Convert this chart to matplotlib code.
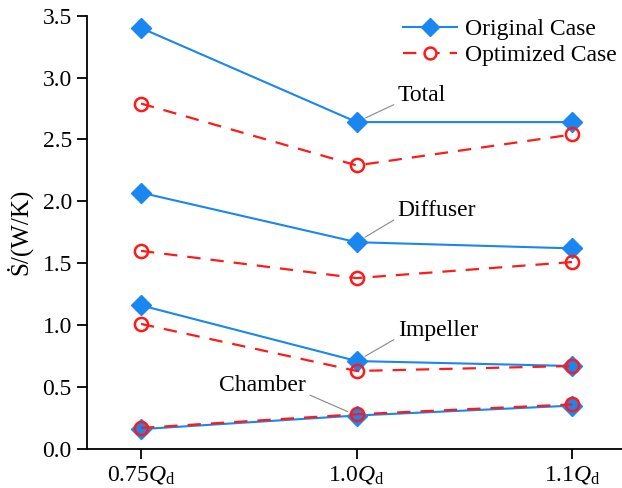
import matplotlib
matplotlib.use('Agg')
import matplotlib.pyplot as plt

plt.rcParams['font.family'] = ['Liberation Serif', 'DejaVu Serif']
plt.rcParams['mathtext.fontset'] = 'custom'
plt.rcParams['mathtext.rm'] = 'Liberation Serif'
plt.rcParams['mathtext.it'] = 'Liberation Serif:italic'

# flow rates and entropy production rates for each component
flow_labels = [r'0.75$Q_\mathrm{d}$', r'1.0$Q_\mathrm{d}$', r'1.1$Q_\mathrm{d}$']
components = ['Total', 'Diffuser', 'Impeller', 'Chamber']

original = {
    'Total': [3.40, 2.64, 2.64],
    'Diffuser': [2.07, 1.67, 1.62],
    'Impeller': [1.16, 0.71, 0.67],
    'Chamber': [0.16, 0.27, 0.35],
}
optimized = {
    'Total': [2.79, 2.29, 2.54],
    'Diffuser': [1.60, 1.38, 1.51],
    'Impeller': [1.01, 0.63, 0.67],
    'Chamber': [0.17, 0.28, 0.36],
}

blue = '#1a86f0'
red = '#ff1a1a'
fs = 17

fig = plt.figure(figsize=(6.22, 4.88), dpi=100)
ax = fig.add_axes([0.14, 0.08, 0.86, 0.888])

x = range(len(flow_labels))
for name in components:
    l1, = ax.plot(x, original[name], color=blue, lw=1.5, marker='D',
                  markersize=10.5, markerfacecolor=blue, markeredgecolor=blue)
    l2, = ax.plot(x, optimized[name], color=red, lw=1.6, ls=(0, (6, 4.5)),
                  marker='o', markersize=9.5, markerfacecolor='none',
                  markeredgecolor=red, markeredgewidth=1.8)

# labels pointing at the 1.0Qd points
lab_pos = {
    'Total': (1.19, 2.855, 'left', (0.0, 0.15)),
    'Diffuser': (1.19, 1.927, 'left', (0.0, 0.15)),
    'Impeller': (1.19, 0.96, 'left', (0.0, 0.15)),
    'Chamber': (0.765, 0.516, 'right', (1.0, 0.1)),
}
for name in components:
    tx, ty, ha, rp = lab_pos[name]
    ax.annotate(name, xy=(1, original[name][1]), xytext=(tx, ty),
                ha=ha, va='center', fontsize=fs,
                arrowprops=dict(arrowstyle='-', color='#888888', lw=0.8,
                                shrinkA=1, shrinkB=7, relpos=rp))

leg = ax.legend([l1, l2], ['Original Case', 'Optimized Case'], loc='upper right',
                bbox_to_anchor=(1.007, 1.015), frameon=False, fontsize=fs,
                handlelength=2.3, handletextpad=0.3, labelspacing=0.2,
                borderaxespad=0.0, markerscale=0.9)
# white-filled circle in the legend so the dash doesn't run through it
leg.legend_handles[1].set_markerfacecolor('white')

ax.set_xlim(-0.25, 2.23)
ax.set_ylim(0, 3.5)
ax.set_xticks(list(x))
ax.set_xticklabels(flow_labels)
ax.set_yticks([0, 0.5, 1.0, 1.5, 2.0, 2.5, 3.0, 3.5])
ax.set_yticklabels(['0.0', '0.5', '1.0', '1.5', '2.0', '2.5', '3.0', '3.5'])
ax.tick_params(labelsize=fs, direction='out', length=7, width=1.3, pad=4)
ax.spines['top'].set_visible(False)
ax.spines['right'].set_visible(False)
for s in ['left', 'bottom']:
    ax.spines[s].set_linewidth(1.3)
ax.set_ylabel('Ṡ/(W/K)', fontsize=18, labelpad=7)

fig.savefig('out.png', dpi=100)
